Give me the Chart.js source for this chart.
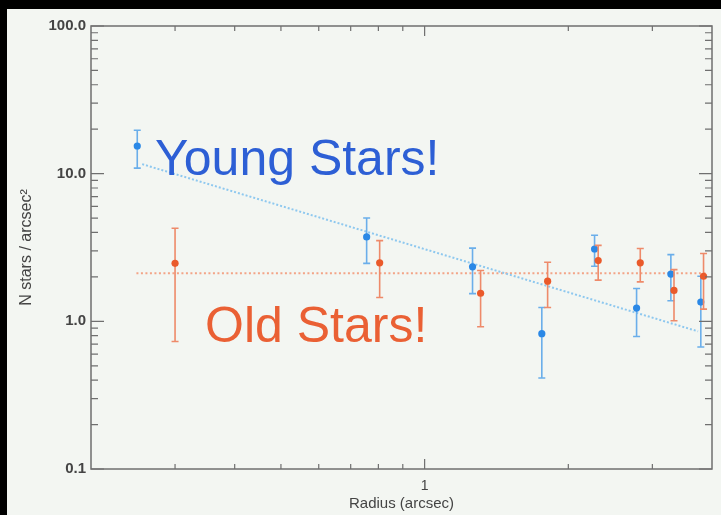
<!DOCTYPE html>
<html>
<head>
<meta charset="utf-8">
<script src="https://cdn.jsdelivr.net/npm/chart.js@4.4.1/dist/chart.umd.min.js"></script>
<style>
  html, body { margin: 0; padding: 0; background: #000; }
  #slide { position: absolute; left: 7px; top: 9px; width: 714px; height: 506px; background: #f3f6f2; }
  canvas { display: block; }
</style>
</head>
<body>
<div id="slide"><canvas id="c" width="714" height="506"></canvas></div>
<script>
// Surface density of stars per radial bin (radius in arcsec, N stars / arcsec^2)
const youngRadius  = [0.250, 0.756, 1.26, 1.76, 2.27, 2.78, 3.28, 3.79];
const youngDensity = [15.4, 3.73, 2.34, 0.825, 3.09, 1.23, 2.09, 1.35];
const youngUpper   = [19.7, 5.01, 3.13, 1.24, 3.83, 1.67, 2.83, 2.02];
const youngLower   = [10.9, 2.47, 1.54, 0.413, 2.36, 0.79, 1.38, 0.67];

const oldRadius  = [0.300, 0.805, 1.31, 1.81, 2.31, 2.83, 3.33, 3.84];
const oldDensity = [2.47, 2.49, 1.55, 1.87, 2.58, 2.49, 1.62, 2.02];
const oldUpper   = [4.27, 3.52, 2.21, 2.51, 3.27, 3.11, 2.24, 2.88];
const oldLower   = [0.73, 1.45, 0.92, 1.24, 1.90, 1.85, 1.01, 1.21];

// Fitted profiles, given by their end points
const youngFitRadius  = [0.256, 3.74];
const youngFitDensity = [11.6, 0.855];
const oldFitRadius    = [0.249, 3.90];
const oldFitDensity   = [2.12, 2.12];

// Labelled ticks
const xTickLabels = [1];
const yTickLabels = [0.1, 1, 10, 100];

const FONT = "'Liberation Sans', Arial, Helvetica, sans-serif";
const AXIS_COLOR = '#6f6f6f';
const LABEL_COLOR = '#444';

const pts = (xs, ys) => xs.map((x, i) => ({ x: x, y: ys[i] }));

// Error bars with caps, drawn under each dataset's markers
const errorBars = {
  id: 'errorBars',
  beforeDatasetDraw(chart, args) {
    const ds = chart.data.datasets[args.index];
    if (!ds.errUp) return;
    const { ctx } = chart;
    const xs = chart.scales.x, ys = chart.scales.y;
    ctx.save();
    ctx.strokeStyle = ds.errColor;
    ctx.lineWidth = 1.6;
    ds.data.forEach((p, i) => {
      const px = xs.getPixelForValue(p.x);
      const top = ys.getPixelForValue(ds.errUp[i]);
      const bot = ys.getPixelForValue(ds.errLo[i]);
      ctx.beginPath();
      ctx.moveTo(px, top); ctx.lineTo(px, bot);
      ctx.moveTo(px - 3.5, top); ctx.lineTo(px + 3.5, top);
      ctx.moveTo(px - 3.5, bot); ctx.lineTo(px + 3.5, bot);
      ctx.stroke();
    });
    ctx.restore();
  }
};

// Box frame with inward ticks on all four sides
const frame = {
  id: 'frame',
  afterDatasetsDraw(chart) {
    const { ctx, chartArea: a } = chart;
    const xs = chart.scales.x, ys = chart.scales.y;
    ctx.save();
    ctx.strokeStyle = AXIS_COLOR;
    ctx.lineWidth = 1.5;
    ctx.strokeRect(a.left, a.top, a.right - a.left, a.bottom - a.top);
    ctx.lineWidth = 1.2;
    ctx.beginPath();
    // x ticks
    for (let d = -1; d <= 0; d++) {
      for (let m = 1; m <= 9; m++) {
        const v = m * Math.pow(10, d);
        if (v <= xs.min || v >= xs.max) continue;
        const px = xs.getPixelForValue(v);
        const len = m === 1 ? 10 : 5;
        ctx.moveTo(px, a.bottom); ctx.lineTo(px, a.bottom - len);
        ctx.moveTo(px, a.top); ctx.lineTo(px, a.top + len);
      }
    }
    // y ticks
    for (let d = -1; d <= 2; d++) {
      for (let m = 1; m <= 9; m++) {
        const v = m * Math.pow(10, d);
        if (v < ys.min || v > ys.max) continue;
        const py = ys.getPixelForValue(v);
        const len = m === 1 ? 13 : 7;
        ctx.moveTo(a.left, py); ctx.lineTo(a.left + len, py);
        ctx.moveTo(a.right, py); ctx.lineTo(a.right - len, py);
      }
    }
    ctx.stroke();
    ctx.restore();
  }
};

// Slide captions
const captions = {
  id: 'captions',
  afterDraw(chart) {
    const { ctx } = chart;
    ctx.save();
    ctx.textAlign = 'left';
    ctx.textBaseline = 'alphabetic';
    ctx.font = '50px ' + FONT;
    ctx.fillStyle = '#2d5fd5';
    ctx.fillText('Young Stars!', 148, 166);
    ctx.fillStyle = '#ea6034';
    ctx.fillText('Old Stars!', 198, 333);
    ctx.restore();
  }
};

new Chart(document.getElementById('c'), {
  type: 'scatter',
  data: {
    datasets: [
      {
        label: 'Old stars',
        data: pts(oldRadius, oldDensity),
        errUp: oldUpper, errLo: oldLower, errColor: '#ee8a6a',
        backgroundColor: '#ea5a2b', borderColor: '#ea5a2b',
        pointRadius: 3.6, borderWidth: 0
      },
      {
        label: 'Young stars',
        data: pts(youngRadius, youngDensity),
        errUp: youngUpper, errLo: youngLower, errColor: '#6aaeea',
        backgroundColor: '#2a88e6', borderColor: '#2a88e6',
        pointRadius: 3.6, borderWidth: 0
      },
      {
        label: 'Young fit',
        data: pts(youngFitRadius, youngFitDensity),
        showLine: true, pointRadius: 0,
        borderColor: '#8ec8ef', borderWidth: 2, borderDash: [2, 2]
      },
      {
        label: 'Old fit',
        data: pts(oldFitRadius, oldFitDensity),
        showLine: true, pointRadius: 0,
        borderColor: '#f3a487', borderWidth: 2, borderDash: [2, 2.5]
      }
    ]
  },
  options: {
    responsive: false,
    animation: false,
    layout: { padding: { top: 17, right: 9, left: 0, bottom: 0 } },
    plugins: { legend: { display: false }, tooltip: { enabled: false } },
    scales: {
      x: {
        type: 'logarithmic', min: 0.2, max: 4, position: 'bottom',
        grid: { display: false, drawTicks: false },
        border: { display: false },
        afterBuildTicks(s) { s.ticks = xTickLabels.map(v => ({ value: v })); },
        afterFit(s) { s.height = 46; },
        ticks: {
          autoSkip: false, maxRotation: 0, padding: 9,
          callback: v => String(v),
          color: LABEL_COLOR, font: { family: FONT, size: 14 }
        },
        title: {
          display: true, text: 'Radius (arcsec)', color: LABEL_COLOR,
          font: { family: FONT, size: 15 }, padding: { top: 0, bottom: 2 }
        }
      },
      y: {
        type: 'logarithmic', min: 0.1, max: 100, position: 'left',
        grid: { display: false, drawTicks: false },
        border: { display: false },
        afterBuildTicks(s) { s.ticks = yTickLabels.map(v => ({ value: v })); },
        afterFit(s) { s.width = 84; },
        ticks: {
          autoSkip: false, padding: 5,
          callback: v => Number(v).toFixed(1),
          color: LABEL_COLOR, font: { family: FONT, size: 15, weight: 'bold' }
        },
        title: {
          display: true, text: 'N stars / arcsec²', color: LABEL_COLOR,
          font: { family: FONT, size: 16 }, padding: { top: 10, bottom: 0 }
        }
      }
    }
  },
  plugins: [errorBars, frame, captions]
});
</script>
</body>
</html>
